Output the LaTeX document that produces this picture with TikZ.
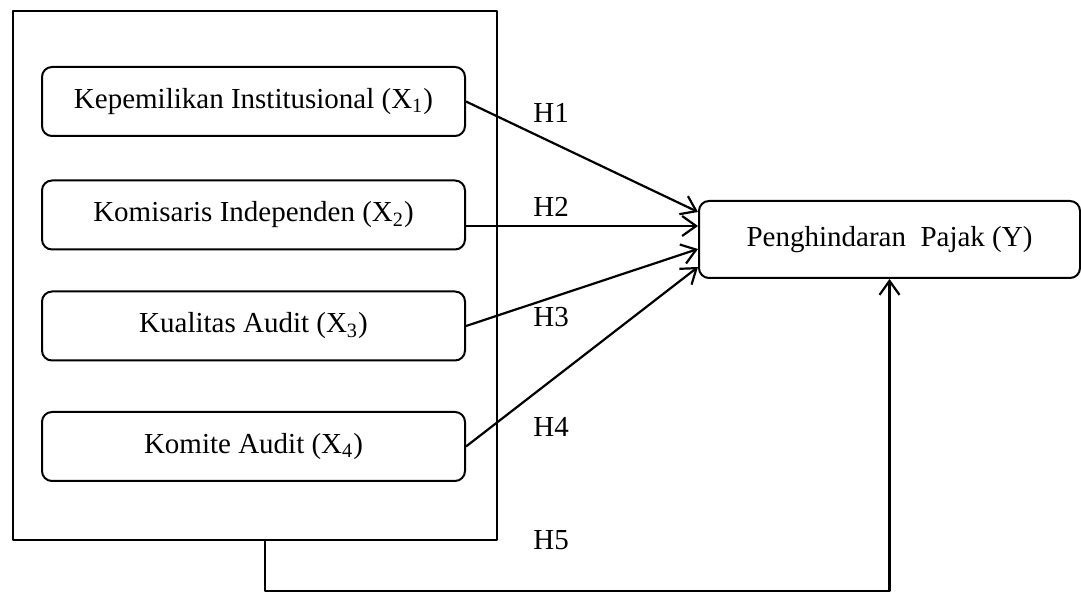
\documentclass[tikz,border=0pt]{standalone}
\usepackage{fontspec}
\setmainfont{Liberation Serif}
\usepackage{tikz}
\usetikzlibrary{arrows.meta,positioning}
\tikzset{
  fw diagram/.style={font=\fontsize{14.5}{17}\selectfont, text=black,
    line join=round, x=0.5pt, y=-0.5pt},
  fw frame/.style={draw, line width=1pt, minimum width=242.25pt,
    minimum height=264.5pt, inner sep=0pt},
  fw box/.style={draw, fill=white, line width=1pt, rounded corners=5pt,
    minimum width=211.5pt, minimum height=34.5pt, align=center, inner sep=0pt},
  fw key box/.style={fw box, minimum width=190.5pt, minimum height=38.5pt},
  fw arrow/.style={-{Straight Barb[length=7pt,width=10pt,line width=1.1pt]},
    line width=1.1pt},
  fw label/.style={anchor=west, inner sep=0pt}
}
\begin{document}
\begin{tikzpicture}[fw diagram]
\useasboundingbox (0,0) rectangle (1081,592);
\node[fw frame] (frame) at (254.75,275.5) {};
\node[fw box] (k1) at (253.5,101.5) {Kepemilikan Institusional (X\textsubscript{1})};
\node[fw box] (k2) at (253.5,215) {Komisaris Independen (X\textsubscript{2})};
\node[fw box] (k3) at (253.5,326) {Kualitas Audit (X\textsubscript{3})};
\node[fw box] (k4) at (253.5,446.5) {Komite Audit (X\textsubscript{4})};
\node[fw key box] (y) at (889.5,239.5) {Penghindaran\ \ Pajak (Y)};
\draw[fw arrow] (k1.east) -- ([yshift=13.75pt]y.west);
\draw[fw arrow] ([yshift=-5.5pt]k2.east) -- ([yshift=6.75pt]y.west);
\draw[fw arrow] (k3.east) -- ([yshift=-4.75pt]y.west);
\draw[fw arrow] (k4.east) -- ([yshift=-13.75pt]y.west);
\draw[fw arrow] ([xshift=5.1pt]frame.south) -- ++(0,50) -| (y.south);
\node[fw label] (h1) at (533,113) {H1};
\node[fw label] (h2) at (533,207) {H2};
\node[fw label] (h3) at (533,317) {H3};
\node[fw label] (h4) at (533,427) {H4};
\node[fw label] (h5) at (533,540) {H5};
\end{tikzpicture}
\end{document}
